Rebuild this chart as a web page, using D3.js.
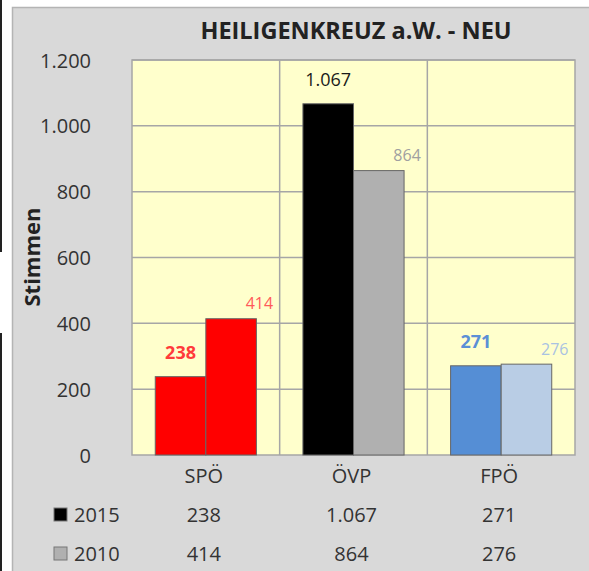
<!DOCTYPE html>
<html>
<head>
<meta charset="utf-8">
<script src="https://cdn.jsdelivr.net/npm/d3@7"></script>
<style>
  body { margin: 0; background: #fff; }
  text { font-family: "Open Sans", sans-serif; }
</style>
</head>
<body>
<script>
var parties = ["SPÖ", "ÖVP", "FPÖ"];
var years = ["2015", "2010"];
var votes2015 = [238, 1067, 271];
var votes2010 = [414, 864, 276];
var yTicks = [0, 200, 400, 600, 800, 1000, 1200];

var colors2015 = ["#ff0000", "#000000", "#558ed5"];
var colors2010 = ["#ff0000", "#b0b0b0", "#b9cde5"];
var labelColors2015 = ["#ff3b3b", "#1a1a1a", "#5b8fd6"];
var labelColors2010 = ["#ff5a5a", "#a0a0a0", "#a9c2e2"];

var width = 589, height = 571;

var de = d3.formatLocale({ decimal: ",", thousands: ".", grouping: [3], currency: ["", "€"] });
var fmt = de.format(",d");

var svg = d3.select("body").append("svg")
  .attr("width", width)
  .attr("height", height);

// outer frame bits
svg.append("line").attr("x1", 1).attr("x2", 1).attr("y1", 0).attr("y2", 252)
  .attr("stroke", "#222").attr("stroke-width", 2);
svg.append("line").attr("x1", 1).attr("x2", 1).attr("y1", 333).attr("y2", height)
  .attr("stroke", "#222").attr("stroke-width", 2);

svg.append("rect")
  .attr("x", 12.5).attr("y", 7.5)
  .attr("width", width).attr("height", height)
  .attr("fill", "#d9d9d9")
  .attr("stroke", "#b4b4b4")
  .attr("stroke-width", 1.5);

var plot = { left: 132, right: 575, top: 60, bottom: 455 };

var x0 = d3.scaleBand().domain(parties).range([plot.left, plot.right]).padding(0);
var x1 = d3.scaleBand().domain(years).range([0, x0.bandwidth()]).paddingInner(0).paddingOuter(0.46);
var y = d3.scaleLinear().domain([0, 1200]).range([plot.bottom, plot.top]);

// plot area
svg.append("rect")
  .attr("x", plot.left).attr("y", plot.top)
  .attr("width", plot.right - plot.left).attr("height", plot.bottom - plot.top)
  .attr("fill", "#ffffcc")
  .attr("stroke", "#a6a6a6")
  .attr("stroke-width", 1.5);

// horizontal gridlines
svg.append("g").selectAll("line")
  .data(yTicks.slice(1))
  .enter().append("line")
  .attr("x1", plot.left).attr("x2", plot.right)
  .attr("y1", function(d) { return y(d); })
  .attr("y2", function(d) { return y(d); })
  .attr("stroke", "#a6a6a6").attr("stroke-width", 1.5);

// category dividers
svg.append("g").selectAll("line")
  .data(parties.slice(1))
  .enter().append("line")
  .attr("x1", function(d) { return x0(d); })
  .attr("x2", function(d) { return x0(d); })
  .attr("y1", plot.top).attr("y2", plot.bottom)
  .attr("stroke", "#a6a6a6").attr("stroke-width", 1.5);

// y axis tick labels
var yAxis = d3.axisLeft(y).tickValues(yTicks).tickFormat(fmt).tickSize(0).tickPadding(0);
var yg = svg.append("g")
  .attr("transform", "translate(91,0)")
  .call(yAxis);
yg.select(".domain").remove();
yg.selectAll("text")
  .attr("font-family", "Open Sans, sans-serif")
  .attr("font-size", 20)
  .attr("fill", "#333")
  .attr("dy", "0.35em");

// y axis title
svg.append("text")
  .attr("transform", "translate(40,257) rotate(-90)")
  .attr("text-anchor", "middle")
  .attr("font-size", 22)
  .attr("font-weight", "bold")
  .attr("fill", "#222")
  .text("Stimmen");

// title
svg.append("text")
  .attr("x", 356).attr("y", 39)
  .attr("text-anchor", "middle")
  .attr("font-size", 23.5)
  .attr("font-weight", "bold")
  .attr("fill", "#222")
  .text("HEILIGENKREUZ a.W. - NEU");

// bars
var rows = parties.map(function(p, i) {
  return [
    { party: p, year: "2015", value: votes2015[i], fill: colors2015[i], label: labelColors2015[i] },
    { party: p, year: "2010", value: votes2010[i], fill: colors2010[i], label: labelColors2010[i] }
  ];
});

var groups = svg.append("g").selectAll("g")
  .data(rows)
  .enter().append("g")
  .attr("transform", function(d) { return "translate(" + x0(d[0].party) + ",0)"; });

groups.selectAll("rect")
  .data(function(d) { return d; })
  .enter().append("rect")
  .attr("x", function(d) { return x1(d.year); })
  .attr("y", function(d) { return y(d.value); })
  .attr("width", x1.bandwidth())
  .attr("height", function(d) { return y(0) - y(d.value); })
  .attr("fill", function(d) { return d.fill; })
  .attr("stroke", "#666")
  .attr("stroke-width", 1);

// data labels
groups.selectAll("text.lbl")
  .data(function(d) { return d; })
  .enter().append("text")
  .attr("class", "lbl")
  .attr("text-anchor", "middle")
  .attr("x", function(d) {
    return d.year === "2015" ? x1(d.year) + x1.bandwidth() / 2 : x1(d.year) + x1.bandwidth() + 3;
  })
  .attr("y", function(d) { return y(d.value) - (d.year === "2015" ? 24 : 15); })
  .attr("dy", "0.35em")
  .attr("font-size", function(d) { return d.year === "2015" ? 18 : 16; })
  .attr("font-weight", function(d) { return d.year === "2015" && d.party !== "ÖVP" ? "bold" : "normal"; })
  .attr("fill", function(d) { return d.label; })
  .text(function(d) { return fmt(d.value); });

// category axis
var xAxis = d3.axisBottom(x0).tickSize(0).tickPadding(0);
var xg = svg.append("g")
  .attr("transform", "translate(-2," + (plot.bottom + 21) + ")")
  .call(xAxis);
xg.select(".domain").remove();
xg.selectAll("text")
  .attr("font-family", "Open Sans, sans-serif")
  .attr("font-size", 20)
  .attr("fill", "#333")
  .attr("dy", "0.35em");

// data table
var tableRows = [
  { year: "2015", values: votes2015, fill: "#000000", y: 515 },
  { year: "2010", values: votes2010, fill: "#b0b0b0", y: 554 }
];

tableRows.forEach(function(r) {
  svg.append("rect")
    .attr("x", 54).attr("y", r.y - 7)
    .attr("width", 13).attr("height", 13)
    .attr("fill", r.fill)
    .attr("stroke", "#777").attr("stroke-width", 1);
  svg.append("text")
    .attr("x", 74).attr("y", r.y)
    .attr("dy", "0.35em")
    .attr("font-size", 20)
    .attr("fill", "#333")
    .text(r.year);
  svg.append("g").selectAll("text")
    .data(parties)
    .enter().append("text")
    .attr("x", function(d) { return x0(d) + x0.bandwidth() / 2 - 2; })
    .attr("y", r.y)
    .attr("dy", "0.35em")
    .attr("text-anchor", "middle")
    .attr("font-size", 20)
    .attr("fill", "#333")
    .text(function(d, i) { return fmt(r.values[i]); });
});
</script>
</body>
</html>
